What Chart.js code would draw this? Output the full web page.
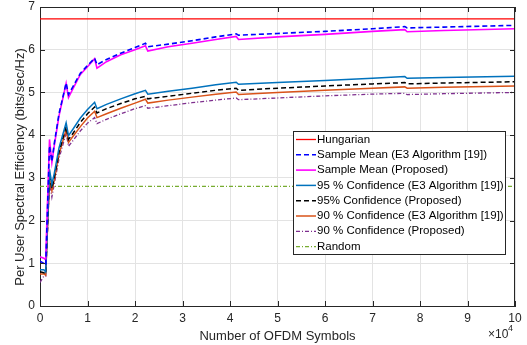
<!DOCTYPE html>
<html>
<head>
<meta charset="utf-8">
<script src="https://cdn.jsdelivr.net/npm/chart.js@4.4.1/dist/chart.umd.min.js"></script>
<style>
  html, body { margin: 0; padding: 0; background: #fff; }
  #wrap { width: 527px; height: 345px; position: relative; }
</style>
</head>
<body>
<div id="wrap"><canvas id="chart"></canvas></div>
<script>
// x positions, in units of 10^4 OFDM symbols
const symbols = [0, 0.08, 0.12, 0.2, 0.25, 0.3, 0.4, 0.55, 0.6, 0.7, 0.85, 1.0, 1.15, 1.2, 1.4, 1.7, 2.0,
                 2.22, 2.27, 2.7, 3.2, 3.7, 4.13, 4.18, 5, 6, 7, 7.68, 7.73, 8.5, 10];

// spectral efficiency (bits/sec/Hz) for each series
const meanE3 = [1.05, 1.0, 0.95, 3.75, 3.38, 3.8, 4.5, 5.22, 4.95, 5.15, 5.45, 5.63, 5.8, 5.65, 5.77, 5.92, 6.05,
                6.15, 6.07, 6.13, 6.21, 6.3, 6.37, 6.34, 6.38, 6.43, 6.49, 6.54, 6.51, 6.53, 6.57];
const meanProposed = [1.15, 1.12, 1.08, 3.9, 3.36, 3.75, 4.45, 5.21, 4.88, 5.1, 5.42, 5.6, 5.79, 5.57, 5.72, 5.88, 6.0,
                      6.09, 5.97, 6.07, 6.15, 6.24, 6.31, 6.24, 6.3, 6.36, 6.43, 6.47, 6.42, 6.45, 6.49];
const conf95E3 = [0.85, 0.85, 0.8, 3.2, 2.85, 3.1, 3.7, 4.29, 3.99, 4.15, 4.4, 4.6, 4.77, 4.62, 4.72, 4.85, 4.97,
                  5.05, 4.96, 5.03, 5.1, 5.18, 5.24, 5.19, 5.23, 5.28, 5.33, 5.37, 5.33, 5.35, 5.38];
const conf95Proposed = [0.8, 0.78, 0.75, 3.05, 2.75, 3.0, 3.6, 4.2, 3.9, 4.05, 4.3, 4.5, 4.66, 4.52, 4.62, 4.74, 4.85,
                        4.91, 4.85, 4.91, 4.98, 5.05, 5.1, 5.05, 5.1, 5.15, 5.2, 5.23, 5.2, 5.22, 5.25];
const conf90E3 = [0.75, 0.75, 0.72, 3.0, 2.7, 2.95, 3.55, 4.13, 3.83, 3.98, 4.2, 4.4, 4.56, 4.41, 4.5, 4.63, 4.75,
                  4.84, 4.75, 4.82, 4.89, 4.96, 5.01, 4.95, 5.0, 5.05, 5.1, 5.13, 5.1, 5.12, 5.15];
const conf90Proposed = [0.55, 0.7, 0.7, 2.9, 2.55, 2.85, 3.45, 4.05, 3.74, 3.88, 4.1, 4.28, 4.41, 4.27, 4.37, 4.5, 4.62,
                        4.69, 4.63, 4.69, 4.76, 4.82, 4.87, 4.83, 4.87, 4.92, 4.96, 4.98, 4.95, 4.97, 5.0];
const hungarianLevel = 6.72;
const randomLevel = 2.8;

const xTicks = [0, 1, 2, 3, 4, 5, 6, 7, 8, 9, 10];
const yTicks = [0, 1, 2, 3, 4, 5, 6, 7];

const FONT = '"Liberation Sans", Arial, Helvetica, sans-serif';

function pts(values) {
    return symbols.map((x, i) => ({ x: x, y: values[i] }));
}
function flat(level) {
    return [{ x: xTicks[0], y: level }, { x: xTicks[xTicks.length - 1], y: level }];
}

const datasets = [
    { label: 'Hungarian', data: flat(hungarianLevel), borderColor: '#ff0000', borderWidth: 1.3 },
    { label: 'Sample Mean (E3 Algorithm [19])', data: pts(meanE3), borderColor: '#0000ff', borderWidth: 1.6, borderDash: [5, 3] },
    { label: 'Sample Mean (Proposed)', data: pts(meanProposed), borderColor: '#ff00ff', borderWidth: 1.6 },
    { label: '95 % Confidence (E3 Algorithm [19])', data: pts(conf95E3), borderColor: '#0072bd', borderWidth: 1.5 },
    { label: '95% Confidence (Proposed)', data: pts(conf95Proposed), borderColor: '#000000', borderWidth: 1.5, borderDash: [5, 3] },
    { label: '90 % Confidence (E3 Algorithm [19])', data: pts(conf90E3), borderColor: '#d95319', borderWidth: 1.5 },
    { label: '90 % Confidence (Proposed)', data: pts(conf90Proposed), borderColor: '#7e2f8e', borderWidth: 1.3, borderDash: [4, 2, 1, 2] },
    { label: 'Random', data: flat(randomLevel), borderColor: '#77ac30', borderWidth: 1.2, borderDash: [4, 2, 1, 2] }
];
datasets.forEach(ds => { ds.pointRadius = 0; ds.fill = false; ds.tension = 0; });

// MATLAB-like box, inward ticks, y label, exponent label and boxed legend
const matlabLook = {
    id: 'matlabLook',
    afterDraw(chart) {
        const { ctx, chartArea: a, scales: { x, y } } = chart;
        ctx.save();
        ctx.strokeStyle = '#262626';
        ctx.lineWidth = 1;
        ctx.setLineDash([]);
        ctx.beginPath();
        ctx.moveTo(a.left, a.top + 0.5); ctx.lineTo(a.right, a.top + 0.5);
        ctx.moveTo(a.right - 0.5, a.top); ctx.lineTo(a.right - 0.5, a.bottom);
        xTicks.forEach(v => {
            const px = Math.round(x.getPixelForValue(v)) + 0.5;
            ctx.moveTo(px, a.bottom); ctx.lineTo(px, a.bottom - 5);
            ctx.moveTo(px, a.top); ctx.lineTo(px, a.top + 5);
        });
        yTicks.forEach(v => {
            const py = Math.round(y.getPixelForValue(v)) + 0.5;
            ctx.moveTo(a.left, py); ctx.lineTo(a.left + 5, py);
            ctx.moveTo(a.right, py); ctx.lineTo(a.right - 5, py);
        });
        ctx.stroke();

        // y axis label
        ctx.fillStyle = '#262626';
        ctx.font = '13px ' + FONT;
        ctx.textAlign = 'center';
        ctx.textBaseline = 'middle';
        ctx.translate(20, 167);
        ctx.rotate(-Math.PI / 2);
        ctx.fillText('Per User Spectral Efficiency (bits/sec/Hz)', 0, 0);
        ctx.setTransform(1, 0, 0, 1, 0, 0);

        // x10^4 multiplier
        ctx.font = '12px ' + FONT;
        ctx.textBaseline = 'alphabetic';
        ctx.textAlign = 'left';
        ctx.fillText('\u00d710', 488, 338);
        ctx.font = '9px ' + FONT;
        ctx.fillText('4', 508, 331);

        // legend box
        const lx = 293, ly = 131, lw = 212, lh = 123, row = 15.3;
        ctx.fillStyle = '#ffffff';
        ctx.fillRect(lx, ly, lw, lh);
        ctx.strokeStyle = '#262626';
        ctx.strokeRect(lx + 0.5, ly + 0.5, lw, lh);
        ctx.font = '11.5px ' + FONT;
        ctx.textBaseline = 'middle';
        chart.data.datasets.forEach((ds, i) => {
            const cy = ly + 8.5 + i * row;
            ctx.strokeStyle = ds.borderColor;
            ctx.lineWidth = ds.borderWidth;
            ctx.setLineDash(ds.borderDash || []);
            ctx.beginPath();
            ctx.moveTo(lx + 3, cy); ctx.lineTo(lx + 23, cy);
            ctx.stroke();
            ctx.fillStyle = '#000000';
            ctx.fillText(ds.label, lx + 24, cy);
        });
        ctx.restore();
    }
};

new Chart(document.getElementById('chart'), {
    type: 'line',
    data: { datasets: datasets },
    plugins: [matlabLook],
    options: {
        responsive: true,
        maintainAspectRatio: false,
        animation: false,
        layout: { padding: { top: 7, right: 12, left: 0, bottom: 0 } },
        plugins: { legend: { display: false }, tooltip: { enabled: false } },
        scales: {
            x: {
                type: 'linear',
                min: 0, max: 10,
                afterFit(scale) { scale.height = 39; scale.paddingLeft = 0; scale.paddingRight = 0; },
                afterBuildTicks(scale) { scale.ticks = xTicks.map(v => ({ value: v })); },
                ticks: { color: '#262626', font: { size: 12, family: FONT }, padding: 5, maxRotation: 0 },
                grid: { color: '#e3e3e3', drawTicks: false },
                border: { color: '#262626' },
                title: { display: true, text: 'Number of OFDM Symbols', color: '#262626',
                         font: { size: 13, family: FONT }, padding: { top: 0, bottom: 1 } }
            },
            y: {
                min: 0, max: 7,
                afterFit(scale) { scale.width = 40; scale.paddingTop = 0; scale.paddingBottom = 0; },
                afterBuildTicks(scale) { scale.ticks = yTicks.map(v => ({ value: v })); },
                ticks: { color: '#262626', font: { size: 12, family: FONT }, padding: 5 },
                grid: { color: '#e3e3e3', drawTicks: false },
                border: { color: '#262626' }
            }
        }
    }
});
</script>
</body>
</html>
